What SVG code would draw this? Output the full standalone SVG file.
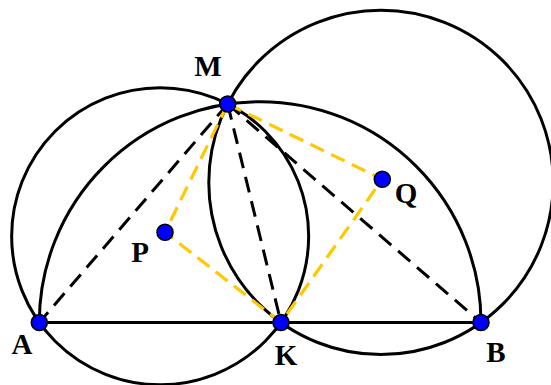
<svg xmlns="http://www.w3.org/2000/svg" width="551" height="385" viewBox="0 0 551 385">
<style>
.c{fill:none;stroke:#000;stroke-width:3}
.s{stroke:#000;stroke-width:3;fill:none}
.d{stroke:#000;stroke-width:3;stroke-dasharray:16 9;fill:none}
.y{stroke:#FFC800;stroke-width:3.2;stroke-dasharray:15 8;fill:none}
.pt{fill:#0000FF;stroke:#000;stroke-width:1.6}
.lb{font-family:"Liberation Serif",serif;font-weight:bold;font-size:29px;fill:#000;text-anchor:middle}
</style>
<rect width="551" height="385" fill="#fff"/>
<g id="connectors">
<circle class="c" cx="160.15" cy="236.2" r="148.5"/>
<circle class="c" cx="381" cy="182.4" r="172.2"/>
<path class="c" d="M39.3 322.5 A220.85 220.85 0 0 1 481 322.5"/>
<line class="s" x1="39.3" y1="322.5" x2="481" y2="322.5"/>
<line class="d" x1="227.7" y1="104" x2="39.3" y2="322.5"/>
<line class="d" x1="227.7" y1="104" x2="281" y2="322.5"/>
<line class="d" x1="227.7" y1="104" x2="481" y2="322.5"/>
<polyline class="y" points="227.7,104 165,232.3 281,322.5"/>
<polyline class="y" points="227.7,104 382.3,179.3 281,322.5"/>
</g>
<g id="A"><circle class="pt" cx="39.3" cy="322.5" r="8"/><text class="lb" x="22" y="354">A</text></g>
<g id="K"><circle class="pt" cx="281" cy="322.5" r="8"/><text class="lb" x="286" y="365">K</text></g>
<g id="B"><circle class="pt" cx="481" cy="322.5" r="8"/><text class="lb" x="496" y="362">B</text></g>
<g id="M"><circle class="pt" cx="227.7" cy="104" r="8"/><text class="lb" x="208" y="76">M</text></g>
<g id="P"><circle class="pt" cx="165" cy="232.3" r="8"/><text class="lb" x="140" y="262">P</text></g>
<g id="Q"><circle class="pt" cx="382.3" cy="179.3" r="8"/><text class="lb" x="406" y="203">Q</text></g>
</svg>
